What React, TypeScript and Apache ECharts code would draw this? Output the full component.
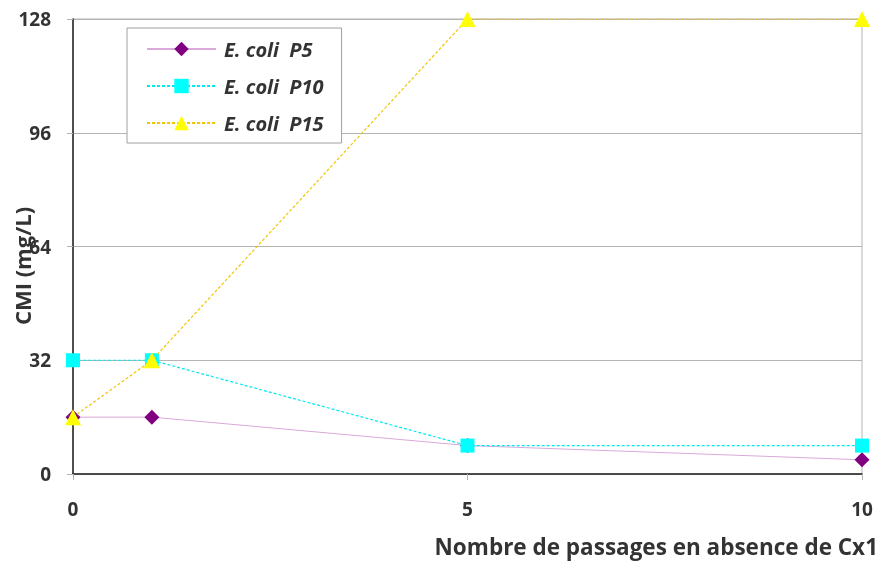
import React, { useEffect, useRef } from "react";
import * as echarts from "echarts";

const passages = [0, 1, 5, 10];
const p5 = [16, 16, 8, 4];
const p10 = [32, 32, 8, 8];
const p15 = [16, 32, 128, 128];
const seriesNames = ["E. coli  P5", "E. coli  P10", "E. coli  P15"];
const yTicks = { min: 0, max: 128, interval: 32 };
const xTicks = { min: 0, max: 10, interval: 5 };

const FONT = "'Open Sans', 'Noto Sans', sans-serif";

export default function App() {
  const ref = useRef<HTMLDivElement>(null);
  useEffect(() => {
    if (!ref.current) return;
    const chart = echarts.init(ref.current, undefined, { renderer: "svg" });
    const pair = (ys: number[]) => passages.map((x, i) => [x, ys[i]]);
    chart.setOption({
      animation: false,
      grid: {
        left: 73,
        right: 23,
        top: 19,
        bottom: 88,
        show: true,
        borderColor: "#b4b4b4",
        borderWidth: 1,
      },
      legend: {
        orient: "vertical",
        left: 127,
        top: 28,
        padding: [11, 18, 10, 19],
        itemGap: 17,
        itemWidth: 69,
        itemHeight: 18,
        borderColor: "#a0a0a0",
        borderWidth: 1,
        backgroundColor: "#fff",
        data: seriesNames,
        textStyle: {
          fontFamily: FONT,
          fontSize: 20,
          fontWeight: "bold",
          fontStyle: "italic",
          color: "#333",
          padding: [0, 0, 0, 3],
        },
      },
      xAxis: {
        type: "value",
        min: xTicks.min,
        max: xTicks.max,
        interval: xTicks.interval,
        axisLine: { show: true, lineStyle: { color: "#222", width: 1.5 } },
        axisTick: { show: true, length: 6, lineStyle: { color: "#b4b4b4" } },
        splitLine: { show: false },
        axisLabel: {
          margin: 25,
          fontFamily: FONT,
          fontSize: 19,
          fontWeight: "bold",
          color: "#333",
        },
      },
      yAxis: {
        type: "value",
        min: yTicks.min,
        max: yTicks.max,
        interval: yTicks.interval,
        axisLine: { show: true, lineStyle: { color: "#222", width: 1.5 } },
        axisTick: { show: true, length: 6, lineStyle: { color: "#b4b4b4" } },
        splitLine: { show: true, lineStyle: { color: "#b4b4b4" } },
        axisLabel: {
          margin: 22,
          fontFamily: FONT,
          fontSize: 19,
          fontWeight: "bold",
          color: "#333",
        },
      },
      series: [
        {
          name: seriesNames[0],
          type: "line",
          data: pair(p5),
          symbol: "diamond",
          symbolSize: 15,
          itemStyle: { color: "#800080" },
          lineStyle: { color: "#d9a9d9", width: 1, type: "solid" },
          z: 3,
        },
        {
          name: seriesNames[1],
          type: "line",
          data: pair(p10),
          symbol: "rect",
          symbolSize: 14,
          itemStyle: { color: "#00ffff" },
          lineStyle: { color: "#00e8f0", width: 1.2, type: [3, 2] },
          z: 4,
        },
        {
          name: seriesNames[2],
          type: "line",
          data: pair(p15),
          symbol: "triangle",
          symbolSize: 16,
          itemStyle: { color: "#ffff00" },
          lineStyle: { color: "#f5c400", width: 1.2, type: [3, 2] },
          z: 5,
        },
      ],
      graphic: [
        {
          type: "text",
          x: 22,
          y: 266,
          rotation: Math.PI / 2,
          z: 100,
          style: {
            text: "CMI (mg/L)",
            fontFamily: FONT,
            fontSize: 22,
            fontWeight: "bold",
            fill: "#333",
            align: "center",
            verticalAlign: "middle",
          },
        },
        {
          type: "text",
          x: 878,
          y: 546,
          z: 100,
          style: {
            text: "Nombre de passages en absence de Cx1",
            fontFamily: FONT,
            fontSize: 22.5,
            fontWeight: "bold",
            fill: "#333",
            align: "right",
            verticalAlign: "middle",
          },
        },
      ],
    });
    return () => chart.dispose();
  }, []);
  return (
    <div
      ref={ref}
      style={{ position: "fixed", left: 0, top: 0, width: 885, height: 562 }}
    />
  );
}
